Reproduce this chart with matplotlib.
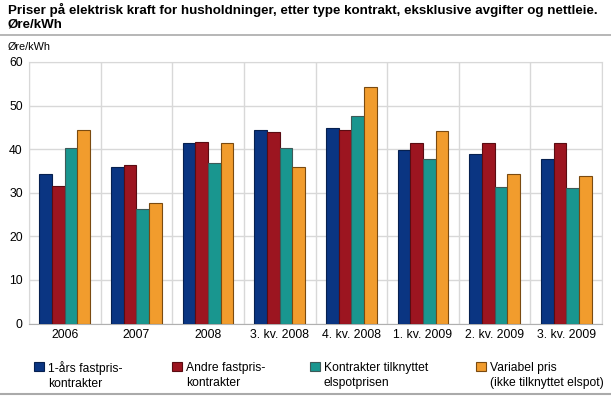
import matplotlib
matplotlib.use("Agg")
import matplotlib.pyplot as plt
import numpy as np
from matplotlib.patches import Rectangle
from matplotlib.lines import Line2D

plt.rcParams['font.family'] = ['Liberation Sans', 'DejaVu Sans']

categories = ["2006", "2007", "2008", "3. kv. 2008", "4. kv. 2008",
              "1. kv. 2009", "2. kv. 2009", "3. kv. 2009"]
series_names = ["1-års fastpris-\nkontrakter", "Andre fastpris-\nkontrakter",
                "Kontrakter tilknyttet\nelspotprisen", "Variabel pris\n(ikke tilknyttet elspot)"]
ettars = [34.3, 36.0, 41.4, 44.4, 44.8, 39.7, 39.0, 37.8]
andre = [31.6, 36.4, 41.6, 44.0, 44.4, 41.5, 41.4, 41.4]
elspot = [40.2, 26.2, 36.8, 40.2, 47.6, 37.8, 31.3, 31.0]
variabel = [44.4, 27.7, 41.4, 35.9, 54.3, 44.2, 34.4, 33.8]
yticks = [0, 10, 20, 30, 40, 50, 60]

colors = ["#0a3582", "#9c1520", "#19968f", "#f19c2d"]
edges = ["#06204f", "#5a0c12", "#3d5a58", "#7a4a10"]

W, H = 611, 397
fig = plt.figure(figsize=(W / 100, H / 100), dpi=100)
ax = fig.add_axes([29 / W, 1 - 323.5 / H, (602 - 29) / W, (323.5 - 62) / H])

x = np.arange(len(categories))
bw = 0.177
data = [ettars, andre, elspot, variabel]
for i, vals in enumerate(data):
    ax.bar(x + (i - 1.5) * bw, vals, bw, color=colors[i], edgecolor=edges[i],
           linewidth=0.8, zorder=3)

ax.set_xlim(-0.5, len(categories) - 0.5)
ax.set_ylim(0, 60)
ax.set_yticks(yticks)
ax.set_xticks(x)
ax.set_xticklabels(categories)
ax.set_xticks(np.arange(len(categories) + 1) - 0.5, minor=True)
ax.grid(False)
ax.yaxis.grid(True, color="#d8d8d8", linewidth=1, zorder=0)
ax.xaxis.grid(True, which="minor", color="#d8d8d8", linewidth=1, zorder=0)
ax.tick_params(axis="both", which="both", length=0, labelsize=8.8, colors="#000000")
ax.tick_params(axis="x", pad=4)
ax.tick_params(axis="y", pad=4.5)
for s in ["top", "right", "left"]:
    ax.spines[s].set_color("#d8d8d8")
ax.spines["bottom"].set_color("#b0b0b0")

fig.text(8 / W, 1 - 3 / H, "Priser på elektrisk kraft for husholdninger, etter type kontrakt, eksklusive avgifter og nettleie.\nØre/kWh",
         fontsize=9.6, fontweight="bold", va="top", ha="left", linespacing=1.12)
fig.add_artist(Line2D([0, 1], [1 - 34.5 / H, 1 - 34.5 / H], color="#aaaaaa", linewidth=1.2))
fig.add_artist(Line2D([0, 1], [1 - 394 / H, 1 - 394 / H], color="#aaaaaa", linewidth=1.5))
fig.text(8 / W, 1 - 47 / H, "Øre/kWh", fontsize=7.8, va="center", ha="left")

# legend
lx = [34, 172, 310, 476]
for i in range(4):
    fig.add_artist(Rectangle((lx[i] / W, 1 - 371 / H), 10 / W, 9 / H,
                             facecolor=colors[i], edgecolor=edges[i], linewidth=0.8))
    fig.text((lx[i] + 14) / W, 1 - 375.5 / H, series_names[i], fontsize=8.7,
             va="center", ha="left", linespacing=1.3)

fig.savefig("out.png", dpi=100)
